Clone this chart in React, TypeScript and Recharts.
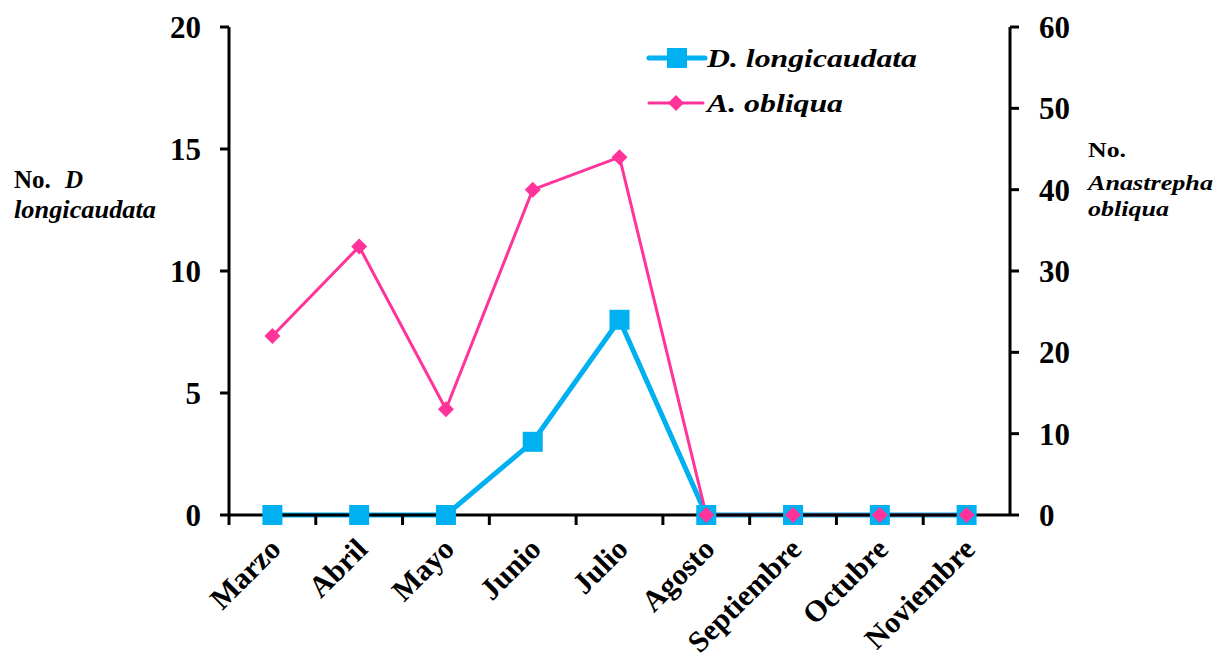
import React from 'react'
import { LineChart, Line, XAxis, YAxis, Customized } from 'recharts'

const months = ['Marzo', 'Abril', 'Mayo', 'Junio', 'Julio', 'Agosto', 'Septiembre', 'Octubre', 'Noviembre']
const longicaudata = [0, 0, 0, 3, 8, 0, 0, 0, 0]
const obliqua = [22, 33, 13, 40, 44, 0, 0, 0, 0]
const leftTicks = [0, 5, 10, 15, 20]
const rightTicks = [0, 10, 20, 30, 40, 50, 60]

const BLUE = '#00B0F0'
const PINK = '#FF3399'
const FONT = '"Liberation Serif", "Times New Roman", serif'

const data = months.map((m, i) => ({ month: m, dl: longicaudata[i], ao: obliqua[i] }))

function SquareDot({ cx, cy }: any) {
  if (cx == null || cy == null) return null
  return <rect x={cx - 10} y={cy - 10} width={20} height={20} fill={BLUE} />
}

function DiamondDot({ cx, cy }: any) {
  if (cx == null || cy == null) return null
  const r = 8
  return <polygon points={`${cx},${cy - r} ${cx + r},${cy} ${cx},${cy + r} ${cx - r},${cy}`} fill={PINK} />
}

// month label at the band centre, tick mark on the band edge
function MonthTick({ x, y, payload }: any) {
  const off = payload?.offset ?? 0
  const ax = x + 10
  const ay = y + 28
  return (
    <g>
      <line x1={x - off} y1={y - 9} x2={x - off} y2={y + 2} stroke="#000" strokeWidth={3} />
      <text
        x={ax}
        y={ay}
        textAnchor="end"
        transform={`rotate(-45 ${ax} ${ay})`}
        fontFamily={FONT}
        fontWeight="bold"
        fontSize={30}
        fill="#000"
      >
        {payload.value}
      </text>
    </g>
  )
}

function Stretch({ x, y, w, size, italic, children }: any) {
  return (
    <text
      x={x}
      y={y}
      fontSize={size}
      fontStyle={italic ? 'italic' : 'normal'}
      textLength={w}
      lengthAdjust="spacingAndGlyphs"
    >
      {children}
    </text>
  )
}

function Extras() {
  return (
    <g fontFamily={FONT} fontWeight="bold" fill="#000">
      {/* legend */}
      <line x1={649} y1={58} x2={705} y2={58} stroke={BLUE} strokeWidth={5} strokeLinecap="round" />
      <rect x={667} y={48} width={20} height={20} fill={BLUE} />
      <Stretch x={707} y={67} w={210} size={26} italic>D. longicaudata</Stretch>
      <line x1={649} y1={103} x2={703} y2={103} stroke={PINK} strokeWidth={3} strokeLinecap="round" />
      <polygon points="676,95 684,103 676,111 668,103" fill={PINK} />
      <Stretch x={707} y={112} w={136} size={26} italic>A. obliqua</Stretch>

      {/* axis titles */}
      <text x={14} y={188} fontSize={25}>No.</text>
      <text x={65} y={188} fontSize={25} fontStyle="italic">D</text>
      <Stretch x={14} y={218} w={142} size={25} italic>longicaudata</Stretch>
      <Stretch x={1088} y={157} w={38} size={22}>No.</Stretch>
      <Stretch x={1088} y={190} w={125} size={22} italic>Anastrepha</Stretch>
      <Stretch x={1088} y={216} w={81} size={22} italic>obliqua</Stretch>
    </g>
  )
}

const tickFont = { fontFamily: FONT, fontWeight: 'bold', fontSize: 31, fill: '#000' }
const axisStroke = { stroke: '#000', strokeWidth: 3 }

export default function App() {
  return (
    <div style={{ position: 'absolute', left: 0, top: 0, background: '#fff' }}>
      <LineChart width={1218} height={661} data={data} margin={{ top: 27, right: 128, bottom: 26, left: 149 }}>
        <XAxis
          dataKey="month"
          scale="band"
          interval={0}
          height={120}
          axisLine={axisStroke}
          tickLine={false}
          tick={<MonthTick />}
        />
        <YAxis
          yAxisId="left"
          domain={[0, 20]}
          ticks={leftTicks}
          width={80}
          axisLine={axisStroke}
          tickLine={axisStroke}
          tickSize={9}
          tickMargin={19}
          tick={tickFont}
        />
        <YAxis
          yAxisId="right"
          orientation="right"
          domain={[0, 60]}
          ticks={rightTicks}
          width={80}
          axisLine={axisStroke}
          tickLine={axisStroke}
          tickSize={9}
          tickMargin={20}
          tick={{ ...tickFont, textAnchor: 'start' }}
        />
        <Line
          yAxisId="left"
          dataKey="dl"
          stroke={BLUE}
          strokeWidth={5}
          dot={<SquareDot />}
          activeDot={false}
          isAnimationActive={false}
        />
        <Line
          yAxisId="right"
          dataKey="ao"
          stroke={PINK}
          strokeWidth={3}
          dot={<DiamondDot />}
          activeDot={false}
          isAnimationActive={false}
        />
        <Customized component={Extras} />
      </LineChart>
    </div>
  )
}
